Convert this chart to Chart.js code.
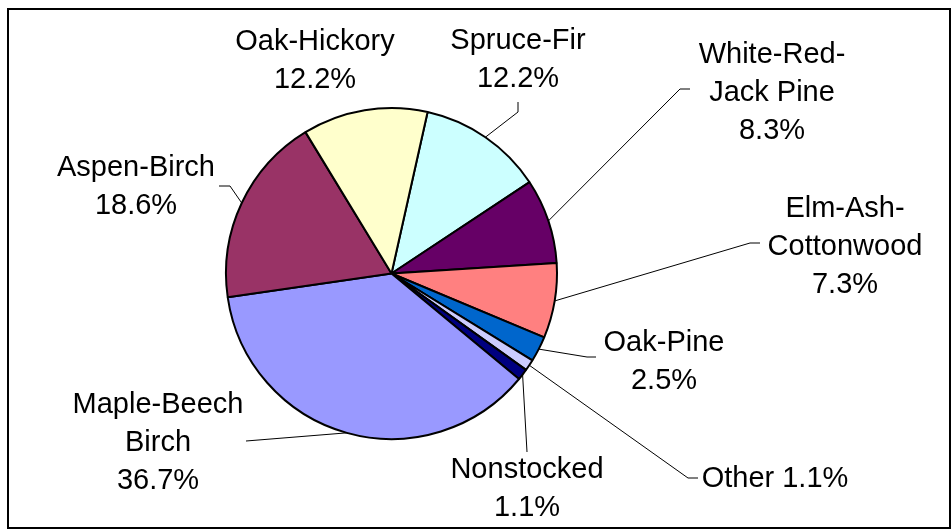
<!DOCTYPE html>
<html>
<head>
<meta charset="utf-8">
<script src="https://cdn.jsdelivr.net/npm/chart.js@4.4.0/dist/chart.umd.min.js"></script>
<style>
  body { margin: 0; background: #fff; }
  canvas { display: block; }
</style>
</head>
<body>
<canvas id="forestChart" width="952" height="529"></canvas>
<script>
// forest type shares (%), listed clockwise starting at the Spruce-Fir slice
const categories = ['Spruce-Fir', 'White-Red-Jack Pine', 'Elm-Ash-Cottonwood', 'Oak-Pine', 'Other',
  'Nonstocked', 'Maple-Beech-Birch', 'Aspen-Birch', 'Oak-Hickory'];
const shares = [12.2, 8.3, 7.3, 2.5, 1.1, 1.1, 36.7, 18.6, 12.2];
const sliceColors = ['#CCFFFF', '#660066', '#FF8080', '#0066CC', '#CCCCFF',
  '#000080', '#9999FF', '#993366', '#FFFFCC'];

// how each name wraps in its label; null = name and percent on one line
const labelLines = [['Spruce-Fir'], ['White-Red-', 'Jack Pine'], ['Elm-Ash-', 'Cottonwood'], ['Oak-Pine'], null,
  ['Nonstocked'], ['Maple-Beech', 'Birch'], ['Aspen-Birch'], ['Oak-Hickory']];

// label placement: centre x and first baseline, then leader line bend points
const labelPos = [[518, 49], [772, 63], [845, 217], [664, 351], [775, 487],
  [527, 478], [158, 413], [136, 176], [315, 50]];
const leaders = [
  [[518, 112], [518, 102]],
  [[680, 89], [690, 89]],
  [[750, 243], [760, 243]],
  [[587, 357], [596, 357]],
  [[688, 478], [698, 478]],
  [[527, 452]],
  [[246, 441]],
  [[230, 186], [219, 186]],
  null
];
const LINE_H = 38;

const framePlugin = {
  id: 'frame',
  beforeDraw(chart) {
    const ctx = chart.ctx;
    ctx.save();
    ctx.fillStyle = '#fff';
    ctx.fillRect(0, 0, chart.width, chart.height);
    ctx.strokeStyle = '#000';
    ctx.lineWidth = 2;
    ctx.strokeRect(8, 9, 942, 519);
    ctx.restore();
  }
};

const labelPlugin = {
  id: 'sliceLabels',
  afterDatasetsDraw(chart) {
    const ctx = chart.ctx;
    const arcs = chart.getDatasetMeta(0).data;
    ctx.save();
    ctx.strokeStyle = '#000';
    ctx.lineWidth = 1;
    ctx.fillStyle = '#000';
    ctx.font = '29px "Liberation Sans", Arial, sans-serif';
    ctx.textAlign = 'center';
    ctx.textBaseline = 'alphabetic';
    arcs.forEach((arc, i) => {
      const pct = shares[i].toFixed(1) + '%';
      if (leaders[i]) {
        const mid = (arc.startAngle + arc.endAngle) / 2;
        const r = arc.outerRadius;
        ctx.beginPath();
        ctx.moveTo(arc.x + Math.cos(mid) * r, arc.y + Math.sin(mid) * r);
        leaders[i].forEach(p => ctx.lineTo(p[0], p[1]));
        ctx.stroke();
      }
      const lines = labelLines[i] ? labelLines[i].concat([pct]) : [categories[i] + ' ' + pct];
      const [x, y] = labelPos[i];
      lines.forEach((t, k) => ctx.fillText(t, x, y + k * LINE_H));
    });
    ctx.restore();
  }
};

new Chart(document.getElementById('forestChart'), {
  type: 'pie',
  data: {
    labels: categories,
    datasets: [{
      data: shares,
      backgroundColor: sliceColors,
      borderColor: '#000',
      borderWidth: 2,
    }],
  },
  options: {
    responsive: false,
    animation: false,
    events: [],
    rotation: 12.6,
    radius: 165.5,
    layout: { padding: { left: 0, right: 169, top: 18, bottom: 0 } },
    plugins: {
      legend: { display: false },
      tooltip: { enabled: false },
    },
  },
  plugins: [framePlugin, labelPlugin],
});
</script>
</body>
</html>
